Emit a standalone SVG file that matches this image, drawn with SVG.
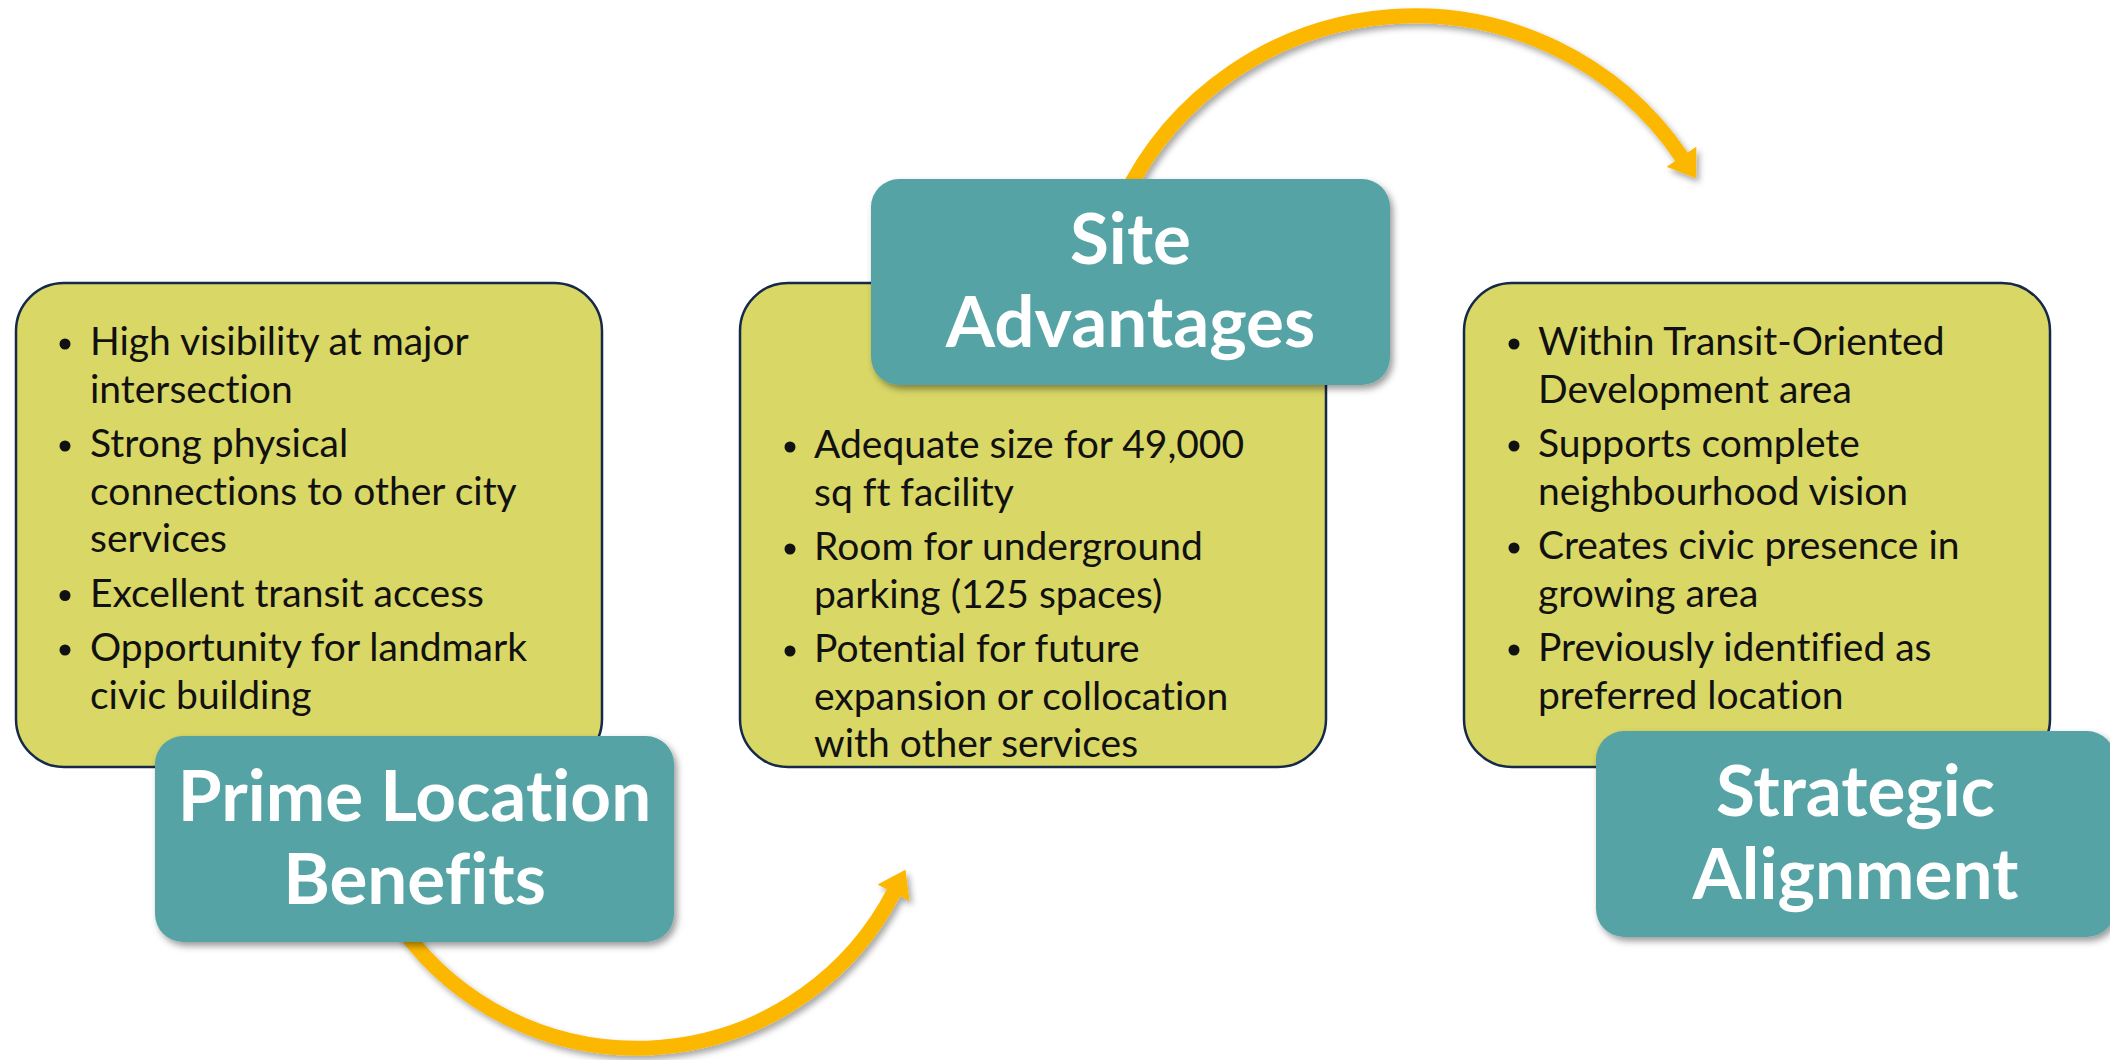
<svg xmlns="http://www.w3.org/2000/svg" width="2110" height="1060" viewBox="0 0 2110 1060">
<style>
.panel{fill:#D9D766;stroke:#15294A;stroke-width:2.5}
.title-box{fill:#55A3A5}
.title{font-family:Lato,"Liberation Sans",sans-serif;font-weight:700;font-size:71px;fill:#FFFFFF;text-anchor:middle;font-variant-ligatures:none}
.body{font-family:Lato,"Liberation Sans",sans-serif;font-size:39px;fill:#111111;font-variant-ligatures:none}
.dot{fill:#111111}
.arc{fill:none;stroke:#FCB700;stroke-width:15}
</style>
<defs>
<filter id="sh" x="-10%" y="-10%" width="125%" height="130%">
<feDropShadow dx="3" dy="4" stdDeviation="3.5" flood-color="#000000" flood-opacity="0.4"/>
</filter>
<filter id="ash" x="-10%" y="-10%" width="125%" height="130%">
<feDropShadow dx="3" dy="4" stdDeviation="3" flood-color="#000000" flood-opacity="0.35"/>
</filter>
<marker id="head" markerUnits="userSpaceOnUse" viewBox="0 0 26 36" refX="1" refY="18" markerWidth="26" markerHeight="36" orient="auto">
<path d="M0,0 L26,18 L0,36 z" fill="#FCB700"/>
</marker>
</defs>
<rect width="2110" height="1060" fill="#FFFFFF"/>

<g id="connectors" filter="url(#ash)">
<path class="arc" d="M403,930 A290,290 0 0,0 894,892" marker-end="url(#head)"/>
<path class="arc" d="M1123,200 A323,323 0 0,1 1682,157.5" marker-end="url(#head)"/>
</g>

<g id="node-prime-location">
<rect class="panel" x="16" y="283" width="586" height="484" rx="48" ry="48"/>
<circle class="dot" cx="65" cy="344" r="5.5"/>
<circle class="dot" cx="65" cy="446" r="5.5"/>
<circle class="dot" cx="65" cy="595.5" r="5.5"/>
<circle class="dot" cx="65" cy="650" r="5.5"/>
<text class="body"><tspan x="90" y="355">High visibility at major</tspan><tspan x="90" y="402.5">intersection</tspan><tspan x="90" y="457">Strong physical</tspan><tspan x="90" y="504.5">connections to other city</tspan><tspan x="90" y="552">services</tspan><tspan x="90" y="606.5">Excellent transit access</tspan><tspan x="90" y="661">Opportunity for landmark</tspan><tspan x="90" y="708.5">civic building</tspan></text>
<rect class="title-box" x="155" y="736" width="519" height="206" rx="28" ry="28" filter="url(#sh)"/>
<text class="title"><tspan x="414.5" y="821">Prime Location</tspan><tspan x="414.5" y="904">Benefits</tspan></text>
</g>

<g id="node-site-advantages">
<rect class="panel" x="740" y="283" width="586" height="484" rx="48" ry="48"/>
<circle class="dot" cx="790" cy="447" r="5.5"/>
<circle class="dot" cx="790" cy="549" r="5.5"/>
<circle class="dot" cx="790" cy="651" r="5.5"/>
<text class="body"><tspan x="814" y="458">Adequate size for 49,000</tspan><tspan x="814" y="505.5">sq ft facility</tspan><tspan x="814" y="560">Room for underground</tspan><tspan x="814" y="607.5">parking (125 spaces)</tspan><tspan x="814" y="662">Potential for future</tspan><tspan x="814" y="709.5">expansion or collocation</tspan><tspan x="814" y="757">with other services</tspan></text>
<rect class="title-box" x="871" y="179" width="519" height="206" rx="28" ry="28" filter="url(#sh)"/>
<text class="title"><tspan x="1130.5" y="264">Site</tspan><tspan x="1130.5" y="347">Advantages</tspan></text>
</g>

<g id="node-strategic-alignment">
<rect class="panel" x="1464" y="283" width="586" height="484" rx="48" ry="48"/>
<circle class="dot" cx="1514" cy="344" r="5.5"/>
<circle class="dot" cx="1514" cy="446" r="5.5"/>
<circle class="dot" cx="1514" cy="548" r="5.5"/>
<circle class="dot" cx="1514" cy="650" r="5.5"/>
<text class="body"><tspan x="1538" y="355">Within Transit-Oriented</tspan><tspan x="1538" y="402.5">Development area</tspan><tspan x="1538" y="457">Supports complete</tspan><tspan x="1538" y="504.5">neighbourhood vision</tspan><tspan x="1538" y="559">Creates civic presence in</tspan><tspan x="1538" y="606.5">growing area</tspan><tspan x="1538" y="661">Previously identified as</tspan><tspan x="1538" y="708.5">preferred location</tspan></text>
<rect class="title-box" x="1596" y="731" width="519" height="206" rx="28" ry="28" filter="url(#sh)"/>
<text class="title"><tspan x="1855.5" y="816">Strategic</tspan><tspan x="1855.5" y="899">Alignment</tspan></text>
</g>
</svg>
